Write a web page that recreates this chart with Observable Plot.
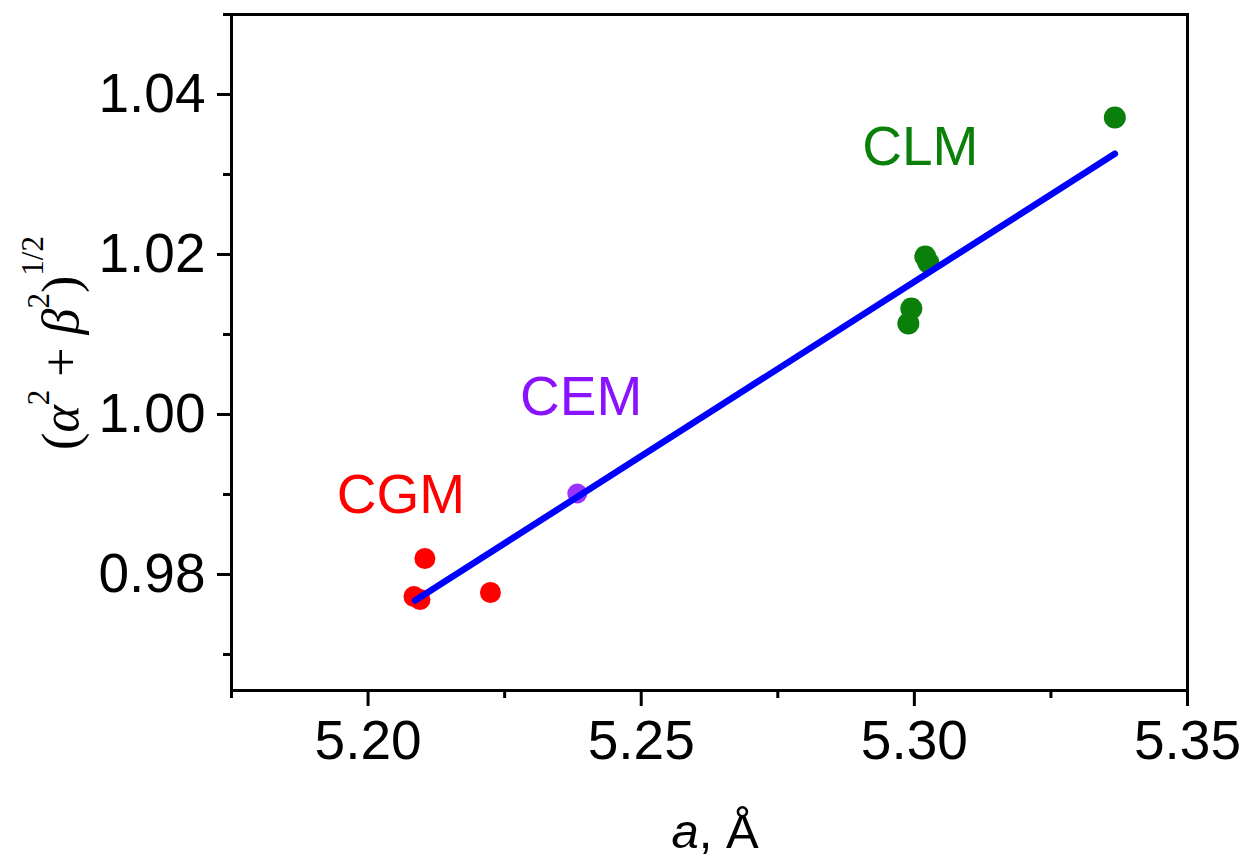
<!DOCTYPE html>
<html>
<head>
<meta charset="utf-8">
<script src="https://cdn.jsdelivr.net/npm/d3@7"></script>
<script src="https://cdn.jsdelivr.net/npm/@observablehq/plot@0.6"></script>
<style>
  html, body { margin: 0; padding: 0; background: #fff; }
  #chart svg { display: block; }
  #chart g[aria-label$="tick"], #chart g[aria-label$="tick"] path { stroke-width: 3px; }
  #chart g[aria-label="frame"], #chart g[aria-label="frame"] rect, #chart rect[aria-label="frame"] { stroke-width: 3px; }
</style>
</head>
<body>
<div id="chart"></div>
<script>
// ---- data ----
const cgmA = [5.2104, 5.2084, 5.2095, 5.2224];
const cgmR = [0.9820, 0.97725, 0.97688, 0.97775];
const cemA = [5.2383];
const cemR = [0.99013];
const clmA = [5.3367, 5.3020, 5.30255, 5.29945, 5.2989];
const clmR = [1.03712, 1.01975, 1.0190, 1.01325, 1.01138];
const fitA = [5.2086, 5.3367];
const fitR = [0.97675, 1.0326];
const groupNames = ["CGM", "CEM", "CLM"];
const labelA = [5.2060, 5.2390, 5.3011];
const labelR = [0.98983, 1.00208, 1.03333];
const xMajor = [5.20, 5.25, 5.30, 5.35];
const xMinor = [5.175, 5.225, 5.275, 5.325];
const yMajor = [0.98, 1.00, 1.02, 1.04];
const yMinor = [0.97, 0.99, 1.01, 1.03, 1.05];

const colors = {CGM: "#ff0000", CEM: "#9a33ff", CLM: "#0a800a"};
const textColors = {CGM: "#ff0000", CEM: "#8a12ff", CLM: "#0a800a"};

const cgm = cgmA.map((a, i) => ({a, r: cgmR[i]}));
const cem = cemA.map((a, i) => ({a, r: cemR[i]}));
const clm = clmA.map((a, i) => ({a, r: clmR[i]}));
const fit = fitA.map((a, i) => ({a, r: fitR[i]}));
const labels = groupNames.map((g, i) => ({g, a: labelA[i], r: labelR[i]}));

const sans = "'Liberation Sans', Arial, Helvetica, sans-serif";

const chart = Plot.plot({
  width: 1249,
  height: 864,
  marginLeft: 231,
  marginRight: 62,
  marginTop: 14,
  marginBottom: 174,
  style: {fontFamily: sans, background: "#fff", color: "#000"},
  x: {domain: [5.175, 5.35]},
  y: {domain: [0.9655, 1.05]},
  marks: [
    Plot.axisX({ticks: xMinor, tickSize: 8, tickFormat: () => "", label: null}),
    Plot.axisX({ticks: xMajor, tickSize: 16, tickPadding: 13, tickFormat: d => d.toFixed(2),
                fontSize: 55, label: null}),
    Plot.axisY({ticks: yMinor, tickSize: 8, tickFormat: () => "", label: null}),
    Plot.axisY({ticks: yMajor, tickSize: 14, tickPadding: 12, tickFormat: d => d.toFixed(2),
                fontSize: 55, label: null}),
    Plot.frame({stroke: "#000", strokeWidth: 3}),
    Plot.dot(cgm, {x: "a", y: "r", r: 10.5, fill: colors.CGM, stroke: "none"}),
    Plot.dot(cem, {x: "a", y: "r", r: 10, fill: colors.CEM, stroke: "none"}),
    Plot.dot(clm, {x: "a", y: "r", r: 11, fill: colors.CLM, stroke: "none"}),
    Plot.line(fit, {x: "a", y: "r", stroke: "#0000ff", strokeWidth: 6.5, strokeLinecap: "round"}),
    Plot.text(labels, {x: "a", y: "r", text: "g", fill: d => textColors[d.g],
                       fontSize: 55, fontFamily: sans})
  ]
});

document.getElementById("chart").appendChild(chart);

const svg = d3.select(chart);

// x axis title: "a, Å"
const xt = svg.append("text")
  .attr("x", 715).attr("y", 848)
  .attr("text-anchor", "middle")
  .attr("font-family", sans)
  .attr("font-size", 49)
  .attr("fill", "#000");
xt.append("tspan").attr("font-style", "italic").text("a");
xt.append("tspan").text(", Å");

// y axis title: (α² + β²)^1/2
const serif = "'Liberation Serif', 'Times New Roman', Times, serif";
const yt = svg.append("text")
  .attr("transform", "translate(78,343) rotate(-90)")
  .attr("text-anchor", "middle")
  .attr("font-family", serif)
  .attr("font-size", 52)
  .attr("fill", "#000");
yt.append("tspan").text("(");
yt.append("tspan").attr("font-style", "italic").text("α");
yt.append("tspan").attr("font-size", 31).attr("dy", -29).text("2");
yt.append("tspan").attr("dy", 29).text(" + ");
yt.append("tspan").attr("font-style", "italic").text("β");
yt.append("tspan").attr("font-size", 31).attr("dy", -29).text("2");
yt.append("tspan").attr("dy", 29).text(")");
yt.append("tspan").attr("font-size", 31).attr("dy", -35).text("1/2");
</script>
</body>
</html>
